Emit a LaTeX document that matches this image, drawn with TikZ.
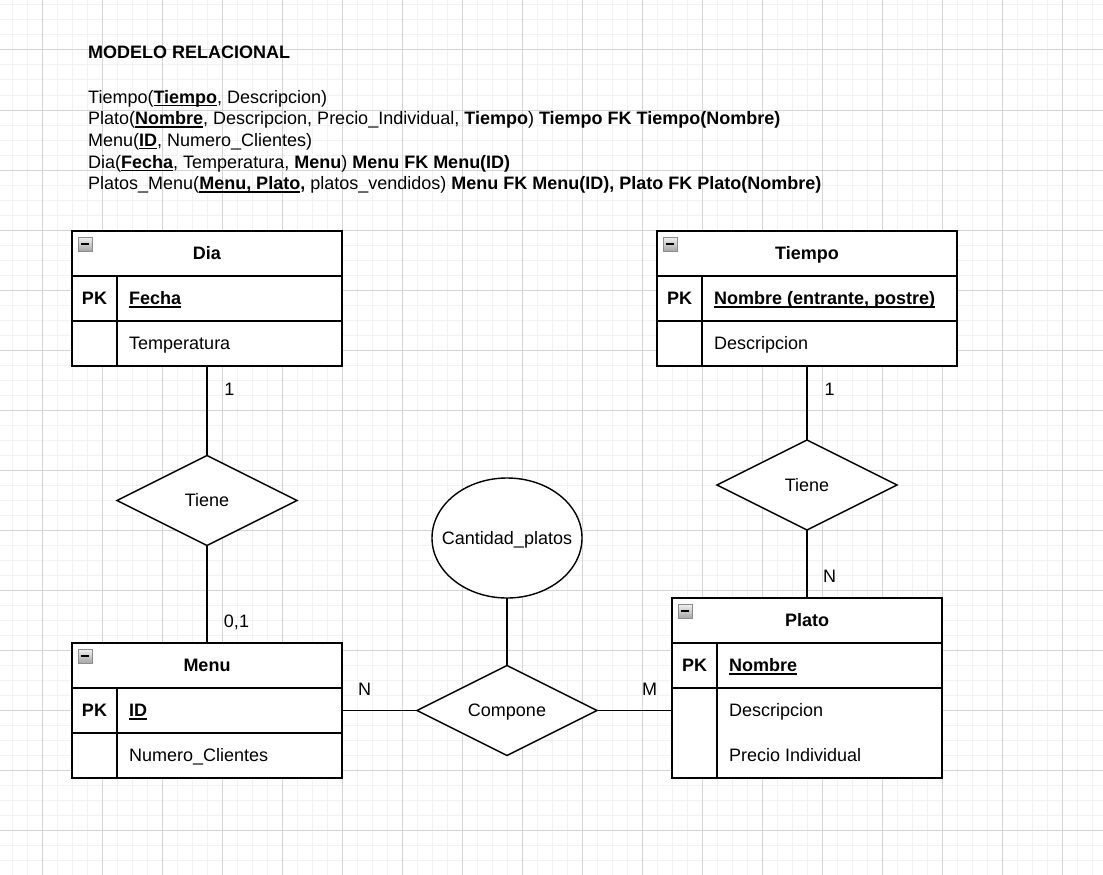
\documentclass[tikz,border=0pt]{standalone}
\usepackage{fontspec}
\setmainfont{Liberation Sans}
\usetikzlibrary{shapes.geometric}

\newcommand{\tam}{\fontsize{18}{21.7}\selectfont}
\newsavebox{\cajasub}
\newcommand{\subr}[1]{\sbox{\cajasub}{#1}\rlap{\rule[-2.8pt]{\wd\cajasub}{1.3pt}}\usebox{\cajasub}}

\begin{document}
\begin{tikzpicture}[x=1pt, y=-1pt,
	every node/.style={font=\tam},
	linea/.style={line width=1.4pt},
	tabla/.style={draw, line width=1.4pt, fill=white, anchor=north west, inner sep=0pt, outer sep=0pt},
	texto/.style={inner sep=0pt, text height=12.8pt, text depth=0pt},
	negrita/.style={texto, font=\tam\bfseries},
	rel/.style={anchor=base west, inner sep=0pt},
	rombo/.style={diamond, draw, line width=1.4pt, fill=white, aspect=2, minimum width=180pt, minimum height=90pt, texto, outer sep=0pt},
	icono/.style={draw=black!45, top color=black!5, bottom color=black!35, line width=0.8pt},
	menor/.style={draw=black!5, line width=1pt},
	mayor/.style={draw=black!17, line width=1pt}]
					\useasboundingbox (0,0) rectangle (1103,875);
					\fill[white] (0,0) rectangle (1103,875);
					
					\foreach \x in {12,27,...,1102} \draw[menor] (\x,0) -- (\x,875);
					\foreach \y in {5,20,...,875} \draw[menor] (0,\y) -- (1103,\y);
					\foreach \x in {42,102,...,1102} \draw[mayor] (\x,0) -- (\x,875);
					\foreach \y in {50,110,...,875} \draw[mayor] (0,\y) -- (1103,\y);
					
					\node[rel, font=\tam\bfseries] (titulo) at (88,59) {MODELO RELACIONAL};
					\node[rel] (rel1) at (88,103) {Tiempo(\textbf{\subr{Tiempo}}, Descripcion)};
					\node[rel] (rel2) at (88,124.7) {Plato(\textbf{\subr{Nombre}}, Descripcion, Precio\_Individual, \textbf{Tiempo}) \textbf{Tiempo FK Tiempo(Nombre)}};
					\node[rel] (rel3) at (88,146.4) {Menu(\textbf{\subr{ID}}, Numero\_Clientes)};
					\node[rel] (rel4) at (88,168.1) {Dia(\textbf{\subr{Fecha}}, Temperatura, \textbf{Menu}) \textbf{Menu FK Menu(ID)}};
					\node[rel] (rel5) at (88,189.8) {Platos\_Menu(\textbf{\subr{Menu, Plato},}\ platos\_vendidos) \textbf{Menu FK Menu(ID), Plato FK Plato(Nombre)}};
					
					\node[tabla, minimum width=270pt, minimum height=135pt] (dia) at (72,231) {};
					\draw[linea] (72,276) -- (342,276);
					\draw[linea] (72,321) -- (342,321);
					\draw[linea] (117,276) -- (117,366);
					\draw[icono] (78,237) rectangle (92,251);
					\draw[line width=1.8pt] (81,244) -- (89,244);
					\node[negrita] (diaT) at (207,253.5) {Dia};
					\node[negrita] (diaPK) at (94.5,298.5) {PK};
					\node[negrita, anchor=west] (diaFecha) at (129,298.5) {\subr{Fecha}};
					\node[texto, anchor=west] (diaTemp) at (129,343.5) {Temperatura};
					
					\node[tabla, minimum width=300pt, minimum height=135pt] (tiempo) at (657,231) {};
					\draw[linea] (657,276) -- (957,276);
					\draw[linea] (657,321) -- (957,321);
					\draw[linea] (702,276) -- (702,366);
					\draw[icono] (663,237) rectangle (677,251);
					\draw[line width=1.8pt] (666,244) -- (674,244);
					\node[negrita] (tiempoT) at (807,253.5) {Tiempo};
					\node[negrita] (tiempoPK) at (679.5,298.5) {PK};
					\node[negrita, anchor=west] (tiempoNombre) at (714,298.5) {\subr{Nombre (entrante, postre)}};
					\node[texto, anchor=west] (tiempoDesc) at (714,343.5) {Descripcion};
					
					\node[tabla, minimum width=270pt, minimum height=135pt] (menu) at (72,643) {};
					\draw[linea] (72,688) -- (342,688);
					\draw[linea] (72,733) -- (342,733);
					\draw[linea] (117,688) -- (117,778);
					\draw[icono] (78,649) rectangle (92,663);
					\draw[line width=1.8pt] (81,656) -- (89,656);
					\node[negrita] (menuT) at (207,665.5) {Menu};
					\node[negrita] (menuPK) at (94.5,710.5) {PK};
					\node[negrita, anchor=west] (menuID) at (129,710.5) {\subr{ID}};
					\node[texto, anchor=west] (menuNum) at (129,755.5) {Numero\_Clientes};
					
					\node[tabla, minimum width=270pt, minimum height=180pt] (plato) at (672,598) {};
					\draw[linea] (672,643) -- (942,643);
					\draw[linea] (672,688) -- (942,688);
					\draw[linea] (717,643) -- (717,778);
					\draw[icono] (678,604) rectangle (692,618);
					\draw[line width=1.8pt] (681,611) -- (689,611);
					\node[negrita] (platoT) at (807,620.5) {Plato};
					\node[negrita] (platoPK) at (694.5,665.5) {PK};
					\node[negrita, anchor=west] (platoNombre) at (729,665.5) {\subr{Nombre}};
					\node[texto, anchor=west] (platoDesc) at (729,710.5) {Descripcion};
					\node[texto, anchor=west] (platoPrecio) at (729,755.5) {Precio Individual};
					
					\node[rombo] (tieneDia) at (207,500.5) {Tiene};
					\node[rombo] (tieneTiempo) at (807,485) {Tiene};
					\node[rombo] (compone) at (507,710.5) {Compone};
					\node[ellipse, draw, line width=1.4pt, fill=white, minimum width=150pt, minimum height=120pt, texto, inner xsep=-14pt, outer sep=0pt] (cantidad) at (507,538) {Cantidad\_platos};
					
					\draw[linea] (dia.south) -- (tieneDia.north);
					\draw[linea] (tieneDia.south) -- (menu.north);
					\draw[linea] (tiempo.south) -- (tieneTiempo.north);
					\draw[linea] (tieneTiempo.south) -- (plato.north);
					\draw[linea] (menu.east) -- (compone.west);
					\draw[linea] (compone.east) -- (compone.east -| plato.west);
					\draw[linea] (cantidad.south) -- (compone.north);
					
					\node[texto] (cardDia) at (229.5,389) {1};
					\node[texto] (cardMenu) at (236.5,621) {0,1};
					\node[texto] (cardTiempo) at (829.5,389) {1};
					\node[texto] (cardPlato) at (829.5,576) {N};
					\node[texto] (cardN) at (364.5,689) {N};
					\node[texto] (cardM) at (649.5,689) {M};
				\end{tikzpicture}
\end{document}
